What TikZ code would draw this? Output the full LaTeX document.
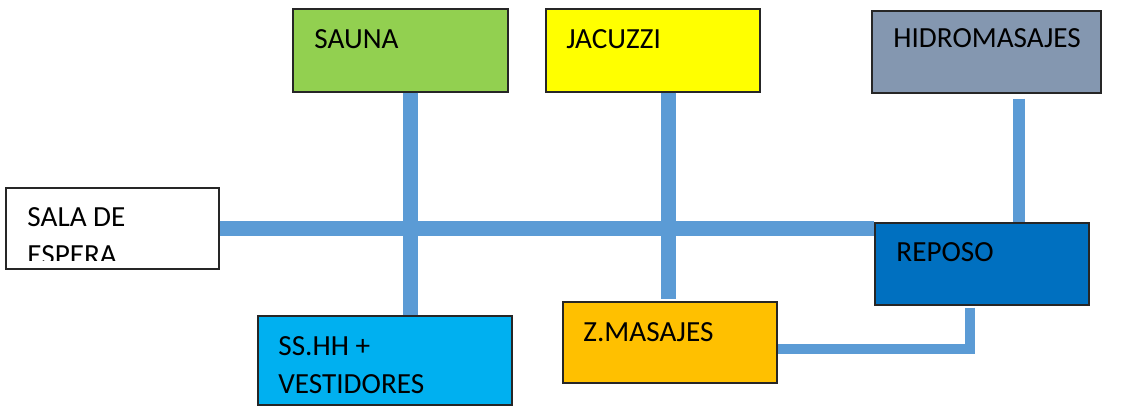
\documentclass[tikz,border=0pt]{standalone}
\usepackage{fontspec}
\setmainfont{Carlito}
\usepackage{xcolor}
\usepackage{tikz}
\definecolor{sauna-green}{HTML}{92D050}
\definecolor{jacuzzi-yellow}{HTML}{FFFF00}
\definecolor{hidro-grey}{HTML}{8497B0}
\definecolor{reposo-blue}{HTML}{0070C0}
\definecolor{masajes-orange}{HTML}{FFC000}
\definecolor{sshh-cyan}{HTML}{00B0F0}
\definecolor{link-blue}{HTML}{5B9BD5}
\tikzset{
  spa-room/.style={draw=black!85, line width=0.7pt, inner sep=0pt},
  spa-label/.style={anchor=base west, inner sep=0pt, text=black,
    font=\fontsize{14.6pt}{19pt}\selectfont},
  spa-link/.style={draw=link-blue, line width=7.5pt}
}

\begin{document}
\begin{tikzpicture}[x=0.5pt, y=-0.5pt]
  \useasboundingbox (0,0) rectangle (1144,406);

  % Rooms as plain boxes
  \node[spa-room, fill=white, minimum width=106.5pt, minimum height=40.5pt] (sala) at (112.5,228.5) {};
  \node[spa-room, fill=sauna-green, minimum width=107.5pt, minimum height=41.5pt] (sauna) at (400.5,50.5) {};
  \node[spa-room, fill=jacuzzi-yellow, minimum width=107pt, minimum height=41.5pt] (jacuzzi) at (653,50.5) {};
  \node[spa-room, fill=hidro-grey, minimum width=114.5pt, minimum height=41pt] (hidro) at (986.5,52) {};
  \node[spa-room, fill=reposo-blue, minimum width=107pt, minimum height=41pt] (reposo) at (982,264) {};
  \node[spa-room, fill=masajes-orange, minimum width=107pt, minimum height=40.5pt] (zmas) at (670,342.5) {};
  \node[spa-room, fill=sshh-cyan, minimum width=127pt, minimum height=44.5pt] (sshh) at (385,360.5) {};

  % Room names
  \begin{scope}
    \clip (6,188) rectangle (219,260);
    \node[spa-label] (sala-top) at (27,227) {SALA DE};
    \node[spa-label] (sala-bottom) at (27,264) {ESPERA};
  \end{scope}
  \node[spa-label] (sauna-name) at (314,49) {SAUNA};
  \node[spa-label] (jacuzzi-name) at (566,49) {JACUZZI};
  \node[spa-label] (hidro-name) at (893,48) {HIDROMASAJES};
  \node[spa-label] (reposo-name) at (896,261) {REPOSO};
  \node[spa-label] (zmas-name) at (583,341) {Z.MASAJES};
  \node[spa-label] (sshh-top) at (278,355) {SS.HH +};
  \node[spa-label] (sshh-bottom) at (278,393) {VESTIDORES};

  % Corridors between rooms
  \draw[spa-link] (sala.east) -- (sala.east -| reposo.west);
  \draw[spa-link] ([xshift=4.75pt]sauna.south) -- ([xshift=4.75pt]sauna.south |- sshh.north);
  \draw[spa-link] ([xshift=7.75pt]jacuzzi.south) -- ([xshift=7.75pt, yshift=1pt]jacuzzi.south |- zmas.north);
  \draw[spa-link, line width=6pt] ([xshift=16pt, yshift=-2.5pt]hidro.south) -- ([xshift=16pt]hidro.south |- reposo.north);
  \draw[spa-link, line width=5pt] ([xshift=-6pt, yshift=-1pt]reposo.south) |- ([yshift=-3pt]zmas.east);
\end{tikzpicture}
\end{document}
